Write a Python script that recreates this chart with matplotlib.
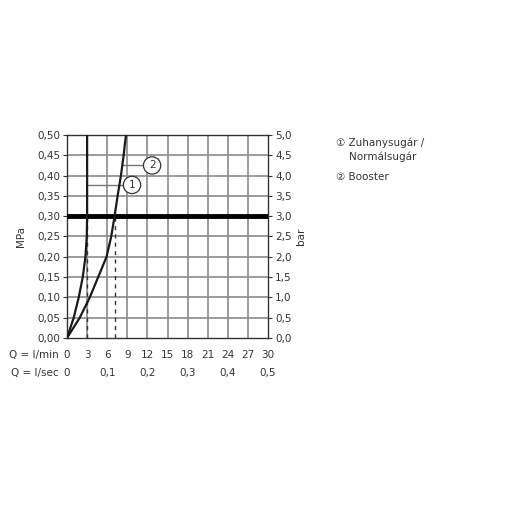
import numpy as np
import matplotlib.pyplot as plt

plt.rcParams['font.family'] = ['DejaVu Sans']

# Q in l/min, p in MPa
q_normal = [0, 1.0, 1.75, 2.35, 2.75, 2.95, 3.0, 3.0]
p_normal = [0, 0.05, 0.10, 0.15, 0.20, 0.25, 0.30, 0.50]
q_booster = [0, 1.9, 3.4, 4.65, 5.9, 6.6, 7.1, 7.55, 8.05, 8.45, 8.8]
p_booster = [0, 0.05, 0.10, 0.15, 0.20, 0.25, 0.30, 0.35, 0.40, 0.45, 0.50]

q_min_ticks = [0, 3, 6, 9, 12, 15, 18, 21, 24, 27, 30]
q_sec_labels = ["0", "0,1", "0,2", "0,3", "0,4", "0,5"]
mpa_ticks = [0, 0.05, 0.10, 0.15, 0.20, 0.25, 0.30, 0.35, 0.40, 0.45, 0.50]
bar_labels = ["0,0", "0,5", "1,0", "1,5", "2,0", "2,5", "3,0", "3,5", "4,0", "4,5", "5,0"]

fs = 7.5
txt = '#333333'
fig = plt.figure(figsize=(5.05, 5.05), dpi=100)
ax = fig.add_axes([0.1327, 0.3307, 0.398, 0.402])
ax.set_xlim(0, 30)
ax.set_ylim(0, 0.5)

for x in q_min_ticks[1:-1]:
    ax.axvline(x, color='#8a8a8a', lw=1.2, zorder=1)
for y in mpa_ticks[1:-1]:
    ax.axhline(y, color='#8a8a8a', lw=1.2, zorder=1)
ax.axhline(0.30, color='black', lw=3.5, zorder=3)

ax.plot(q_normal, p_normal, color='#1a1a1a', lw=1.6, zorder=4)
ax.plot(q_booster, p_booster, color='#1a1a1a', lw=1.6, zorder=4)
ax.plot([3, 3], [0, 0.3], color='#333333', lw=1, ls=(0, (3, 3)), zorder=2)
ax.plot([7.1, 7.1], [0, 0.3], color='#333333', lw=1, ls=(0, (3, 3)), zorder=2)

# number markers
ax.plot([3, 8.5], [0.377, 0.377], color='#777777', lw=1, zorder=3)
ax.plot([8.2, 11.5], [0.425, 0.425], color='#777777', lw=1, zorder=3)
ax.text(9.7, 0.377, "1", ha='center', va='center', fontsize=fs, color=txt, zorder=5,
        bbox=dict(boxstyle='circle,pad=0.35', fc='white', ec='#333333', lw=0.9))
ax.text(12.7, 0.425, "2", ha='center', va='center', fontsize=fs, color=txt, zorder=5,
        bbox=dict(boxstyle='circle,pad=0.35', fc='white', ec='#333333', lw=0.9))

for s in ax.spines.values():
    s.set_color('#333333')
    s.set_linewidth(1)

ax.set_yticks(mpa_ticks)
ax.set_yticklabels([f"{v:.2f}".replace('.', ',') for v in mpa_ticks], fontsize=fs, color=txt)
ax.tick_params(axis='y', direction='out', length=3, width=0.8, pad=2, colors=txt)
ax.set_xticks(q_min_ticks)
ax.set_xticklabels([])
ax.tick_params(axis='x', length=0)
ax.set_ylabel("MPa", fontsize=fs, color=txt, labelpad=8)

ax2 = ax.twinx()
ax2.set_ylim(0, 5)
ax2.set_yticks(np.arange(0, 5.01, 0.5))
ax2.set_yticklabels(bar_labels, fontsize=fs, color=txt)
ax2.tick_params(axis='y', direction='out', length=3, width=0.8, pad=2, colors=txt)
ax2.set_ylabel("bar", fontsize=fs, color=txt, rotation=90, labelpad=3)
for s in ax2.spines.values():
    s.set_visible(False)

for x in q_min_ticks:
    ax.text(x, -0.042, str(x), ha='center', va='center', fontsize=fs, color=txt)
for i, lab in enumerate(q_sec_labels):
    ax.text(i * 6, -0.087, lab, ha='center', va='center', fontsize=fs, color=txt)
ax.text(-1.2, -0.042, "Q = l/min", ha='right', va='center', fontsize=fs, color=txt)
ax.text(-1.2, -0.087, "Q = l/sec", ha='right', va='center', fontsize=fs, color=txt)

fig.text(0.665, 0.718, "\u2460 Zuhanysugár /", fontsize=fs, color=txt, va='center')
fig.text(0.692, 0.689, "Normálsugár", fontsize=fs, color=txt, va='center')
fig.text(0.665, 0.650, "\u2461 Booster", fontsize=fs, color=txt, va='center')

fig.savefig("out.png", dpi=100)
